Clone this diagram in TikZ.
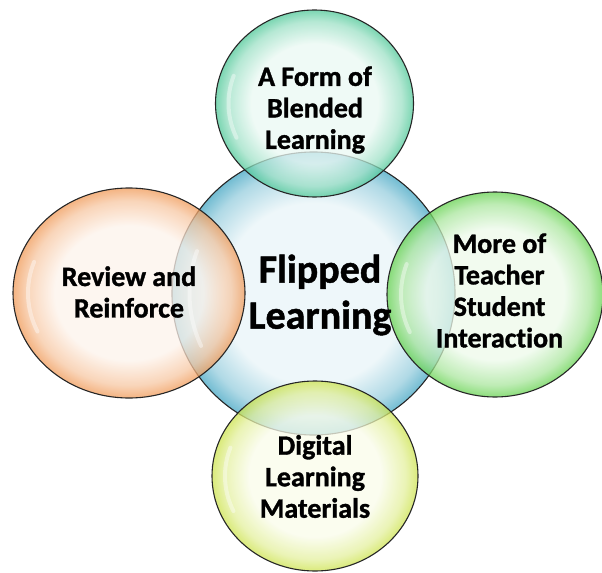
\documentclass[tikz,border=0pt]{standalone}
\usepackage{fontspec}
\setmainfont{Carlito}[Ligatures={NoCommon}, BoldFeatures={FakeBold=1.2}]
\usepackage{tikz}
\usetikzlibrary{shapes.geometric}

\definecolor{hubblue}{HTML}{72BCD2}
\definecolor{blendteal}{HTML}{4FC898}
\definecolor{revieworange}{HTML}{F09A58}
\definecolor{talkgreen}{HTML}{66D250}
\definecolor{digiyellow}{HTML}{CDE34E}

\makeatletter
\pgfdeclareradialshading[tikz@radial@outer,tikz@radial@inner]{glassy}{\pgfpoint{0bp}{0bp}}{color(0bp)=(tikz@radial@inner); color(16bp)=(tikz@radial@inner); color(22bp)=(tikz@radial@outer!50!tikz@radial@inner); color(25bp)=(tikz@radial@outer); color(50bp)=(tikz@radial@outer)}
\makeatother

\begin{document}
\begin{tikzpicture}[x=1bp, y=-1bp,
    bubble/.style={ellipse, draw=black!85, line width=1.1bp, inner sep=0pt,
        inner color=#1!12!white, outer color=#1, shading=glassy},
    gleam/.style={white, line width=4bp, line cap=round, opacity=0.4},
    blurb/.style={align=center, inner sep=0pt, font=\fontsize{28bp}{31.5bp}\selectfont\bfseries}]
    \useasboundingbox (0,0) rectangle (602,573);

    % centre bubble
    \node[bubble=hubblue, minimum width=283bp, minimum height=283bp] (hub) at (313.5,293.5) {};

    % outer bubbles, see-through over the centre
    \begin{scope}[fill opacity=0.75]
        \node[bubble=blendteal, minimum width=198bp, minimum height=187bp] (blend) at (314.5,103.5) {};
        \node[bubble=revieworange, minimum width=232bp, minimum height=210bp] (review) at (129,293) {};
        \node[bubble=talkgreen, minimum width=216bp, minimum height=205bp] (talk) at (495,294.5) {};
        \node[bubble=digiyellow, minimum width=206bp, minimum height=190bp] (digital) at (315,476) {};
    \end{scope}

    % shine on the left of each bubble
    \foreach \b/\rx/\ry in {hub/124/124, blend/86/81, review/101/91, talk/94/89, digital/90/83}
        \draw[gleam] (\b.center) ++(160:\rx bp and \ry bp) arc[start angle=160, end angle=205, x radius=\rx bp, y radius=\ry bp];

    % labels
    \node[blurb] (blendtext) at (315,110) {A Form of\\Blended\\Learning};
    \node[blurb] (reviewtext) at (129,292) {Review and\\Reinforce};
    \node[blurb] (talktext) at (499.5,290.5) {More of\\Teacher\\Student\\Interaction};
    \node[blurb] (digitaltext) at (315,476.5) {Digital\\Learning\\Materials};
    \node[blurb, font=\fontsize{40bp}{46bp}\selectfont\bfseries] (hubtext) at (320,295) {Flipped\\Learning};
\end{tikzpicture}
\end{document}
